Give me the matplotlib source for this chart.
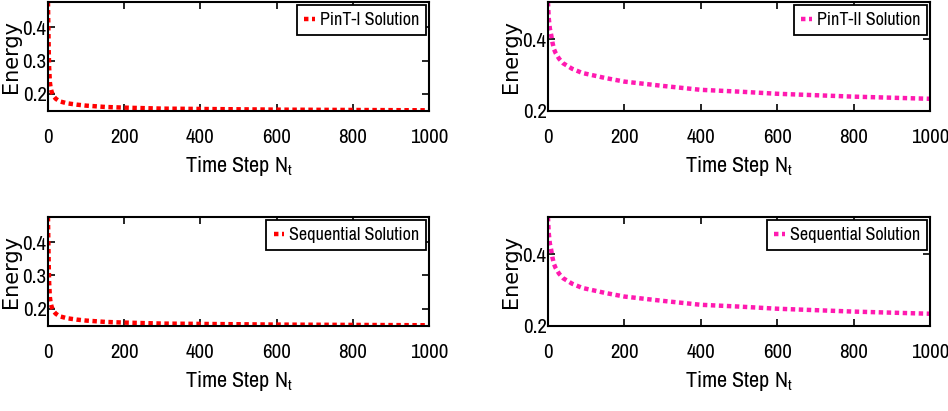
import matplotlib
matplotlib.use("Agg")
import matplotlib.pyplot as plt

plt.rcParams['font.family'] = ['Archivo Narrow', 'DejaVu Sans']
plt.rcParams['mathtext.default'] = 'regular'

# energy curves
steps_1 = [0, 1, 2, 3, 5, 7, 10, 15, 20, 30, 50, 75, 100, 150, 200, 300, 400, 500, 600, 800, 1000]
energy_1 = [0.475, 0.40, 0.33, 0.28, 0.235, 0.218, 0.205, 0.193, 0.186, 0.178, 0.172, 0.168,
            0.165, 0.161, 0.159, 0.156, 0.155, 0.154, 0.153, 0.152, 0.151]

steps_2 = [0, 2, 5, 8, 12, 16, 20, 29, 40, 63, 90, 116, 150, 200, 300, 400, 500, 600, 700, 800, 900, 1000]
energy_2 = [0.504, 0.46, 0.43, 0.415, 0.39, 0.372, 0.362, 0.346, 0.333, 0.318, 0.306, 0.300,
            0.292, 0.282, 0.270, 0.259, 0.254, 0.248, 0.244, 0.240, 0.237, 0.234]

labels = ["PinT-I Solution", "PinT-II Solution", "Sequential Solution", "Sequential Solution"]
red = "#ff0000"
pink = "#ff1ab0"

fig = plt.figure(figsize=(9.48, 4.11), dpi=100)

panels = [
    ([0.0506, 0.730, 0.402, 0.265], steps_1, energy_1, red, labels[0], (0.149, 0.475), [0.2, 0.3, 0.4]),
    ([0.578, 0.730, 0.403, 0.265], steps_2, energy_2, pink, labels[1], (0.2, 0.504), [0.2, 0.4]),
    ([0.0506, 0.207, 0.402, 0.265], steps_1, energy_1, red, labels[2], (0.149, 0.475), [0.2, 0.3, 0.4]),
    ([0.578, 0.207, 0.403, 0.265], steps_2, energy_2, pink, labels[3], (0.2, 0.504), [0.2, 0.4]),
]

for rect, x, y, col, lab, ylim, yticks in panels:
    ax = fig.add_axes(rect)
    ax.plot(x, y, color=col, lw=3.2, linestyle=(0, (1, 0.8)), label=lab)
    ax.set_xlim(0, 1000)
    ax.set_ylim(*ylim)
    ax.set_xticks([0, 200, 400, 600, 800, 1000])
    ax.set_yticks(yticks)
    ax.set_yticklabels([str(t) for t in yticks])
    ax.tick_params(direction='in', top=True, right=True, length=5, width=1.2,
                   labelsize=15, pad=1)
    ax.tick_params(axis='x', pad=12)
    for s in ax.spines.values():
        s.set_linewidth(1.5)
    ax.set_xlabel('Time Step $N_t$', fontsize=16, labelpad=5)
    ax.set_ylabel('Energy', fontsize=15, family=['DejaVu Sans'], labelpad=1)
    leg = ax.legend(loc='upper right', bbox_to_anchor=(1.0, 1.0), fontsize=13,
                    frameon=True, fancybox=False,
                    handlelength=0.6, handletextpad=0.25, borderpad=0.4,
                    borderaxespad=0.15, framealpha=1)
    leg.get_frame().set_edgecolor('black')
    leg.get_frame().set_linewidth(1.3)

fig.savefig("out.png", dpi=100)
